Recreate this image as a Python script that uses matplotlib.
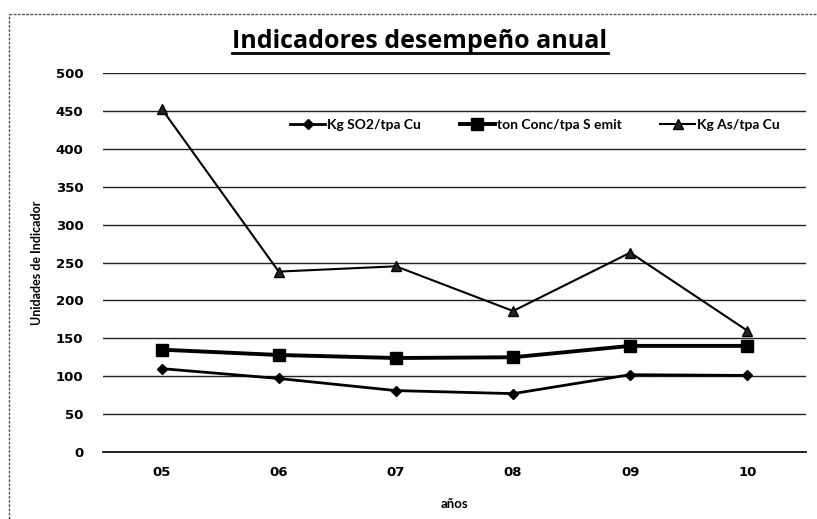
import matplotlib
matplotlib.use("Agg")
import matplotlib.pyplot as plt
from matplotlib.lines import Line2D

years = ["05", "06", "07", "08", "09", "10"]
so2 = [110, 97, 81, 77, 102, 101]
conc = [135, 128, 124, 125, 140, 140]
arsenic = [453, 238, 245, 186, 263, 160]
series_labels = ["Kg SO2/tpa Cu", "ton Conc/tpa S emit", "Kg As/tpa Cu"]
yticks = [0, 50, 100, 150, 200, 250, 300, 350, 400, 450, 500]

W, H = 817, 519
fig = plt.figure(figsize=(W / 100, H / 100), dpi=100)
ax = fig.add_axes([103 / W, 1 - 452 / H, (806 - 103) / W, (452 - 73) / H])

x = list(range(len(years)))
ax.plot(x, so2, color="black", lw=2, marker="D", ms=5.5, mfc="black", mec="black", label=series_labels[0])
ax.plot(x, conc, color="black", lw=2.8, marker="s", ms=9, mfc="black", mec="black", label=series_labels[1])
ax.plot(x, arsenic, color="black", lw=1.5, marker="^", ms=7.5, mfc="#222222", mec="black", label=series_labels[2])

ax.set_xlim(-0.5, len(years) - 0.5)
ax.set_ylim(0, 500)
ax.set_yticks(yticks)
ax.set_xticks(x)
ax.set_xticklabels(years)
ax.yaxis.grid(True, color="#222222", lw=1)
ax.set_axisbelow(True)
for s in ["left", "right", "top"]:
    ax.spines[s].set_visible(False)
ax.spines["bottom"].set_color("#111111")
ax.spines["bottom"].set_linewidth(1.3)
ax.tick_params(axis="both", length=0, labelsize=9.5)
ax.tick_params(axis="y", pad=14)
ax.tick_params(axis="x", pad=10)
for lab in ax.get_xticklabels() + ax.get_yticklabels():
    lab.set_fontweight("bold")
    lab.set_family(["DejaVu Sans"])

ax.set_xlabel("años", fontsize=9.5, fontweight="bold", family=["Lato", "DejaVu Sans"], labelpad=14)
ax.set_ylabel("Unidades de Indicador", fontsize=9, fontweight="bold", family=["Lato", "DejaVu Sans"], labelpad=9)

leg = ax.legend(loc="center", bbox_to_anchor=((535 - 103) / (806 - 103), (452 - 125) / (452 - 73)),
                ncol=3, frameon=False, handlelength=2.5, columnspacing=2.8, handletextpad=0.15,
                prop={"family": ["Lato", "DejaVu Sans"], "weight": "bold", "size": 10})

title = fig.text(420 / W, 1 - 41 / H, "Indicadores desempeño anual", ha="center", va="center",
                 fontsize=18, fontweight="bold", family=["Open Sans", "DejaVu Sans"])
fig.canvas.draw()
bb = title.get_window_extent(fig.canvas.get_renderer())
uy = (bb.y0 + 1) / H
fig.add_artist(Line2D([bb.x0 / W, bb.x1 / W], [uy, uy], color="black", lw=2, transform=fig.transFigure))

# scanned frame (left and top edges)
fig.add_artist(Line2D([9 / W, 9 / W], [0, 1 - 14 / H], color="#555555", lw=1, ls=(0, (2, 1)), transform=fig.transFigure))
fig.add_artist(Line2D([9 / W, 1], [1 - 14 / H, 1 - 14 / H], color="#555555", lw=1, ls=(0, (2, 1)), transform=fig.transFigure))

fig.savefig("out.png", dpi=100)
